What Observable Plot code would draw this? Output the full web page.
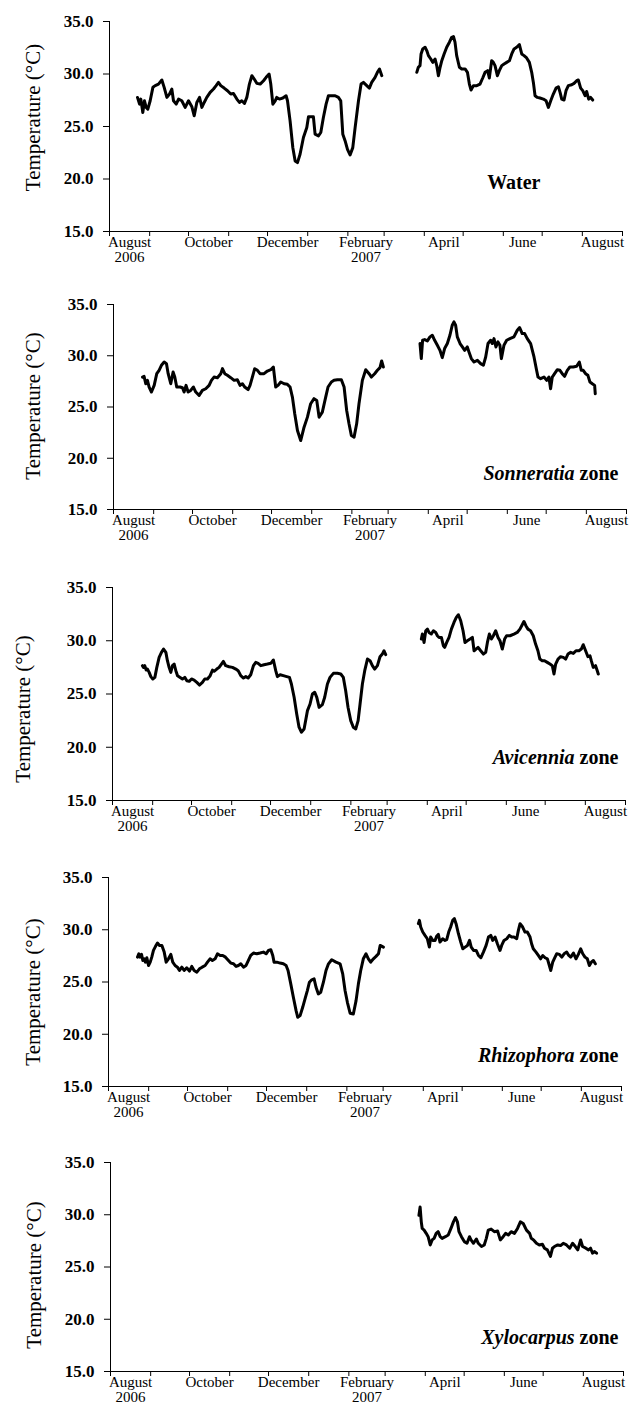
<!DOCTYPE html>
<html><head><meta charset="utf-8">
<script src="https://cdn.jsdelivr.net/npm/d3@7"></script>
<script src="https://cdn.jsdelivr.net/npm/@observablehq/plot@0.6"></script>
<style>body{margin:0;background:#fff;} #chart svg{display:block;}</style>
</head><body><div id="chart"></div>
<script>
// Days are counted from 1 August 2006
const startDate = "2006-08-01";
const endDate = "2007-09-01";
const yTicks = [15, 20, 25, 30, 35];
const labelMonths = ["2006-08", "2006-10", "2006-12", "2007-02", "2007-04", "2007-06", "2007-08"];
const labelTexts = ["August\n2006", "October", "December", "February\n2007", "April", "June", "August"];
const yTitle = "Temperature (°C)";
const zoneSpecies = ["", "Sonneratia", "Avicennia", "Rhizophora", "Xylocarpus"];
const zoneSuffix = ["Water", " zone", " zone", " zone", " zone"];

const waterDay1 = [21.6,23.2,24.2,25.7,27.0,28.3,29.6,31.4,33.5,35.3,37.8,40.4,42.2,44.3,46.3,48.1,49.4,51.5,53.3,55.8,58.4,61.0,63.6,65.4,67.4,69.5,71.3,73.1,75.1,77.7,80.3,82.3,84.1,85.9,88.5,91.1,93.6,95.7,98.3,100.3,102.1,104.2,106.0,108.0,109.9,111.7,113.7,116.3,118.9,120.9,123.2,124.5,126.1,127.9,129.1,131.2,133.8,136.3,137.4,139.4,141.5,143.3,145.1,147.1,149.7,152.3,153.6,157.4,158.7,161.3,163.1,165.1,167.2,169.0,171.6,174.2,176.7,178.5,180.1,181.9,183.7,185.7,187.8,189.6,192.2,194.2,196.0,198.6,200.6,202.4,205.0,206.8,208.4,210.2];
const waterTemp1 = [27.77,27.13,27.61,26.34,27.45,26.82,26.66,27.45,28.73,28.89,29.04,29.43,28.73,27.77,28.09,28.57,27.45,27.13,27.61,27.45,26.82,27.45,26.88,26.02,27.29,27.77,26.82,27.29,27.77,28.25,28.57,28.89,29.20,28.89,28.66,28.41,28.09,28.15,27.61,27.29,27.45,27.20,27.77,29.04,29.84,29.52,29.11,29.04,29.36,29.68,30.00,29.04,27.13,27.45,27.77,27.61,27.71,27.93,27.45,25.54,23.00,21.72,21.56,22.36,23.95,24.90,25.92,25.92,24.27,24.11,24.43,25.86,27.13,27.93,27.93,27.93,27.77,27.45,24.27,23.63,22.83,22.29,22.99,24.90,27.45,29.04,29.20,28.89,28.66,29.20,29.68,30.16,30.48,29.84];
const waterDay2 = [237.2,238.4,239.7,240.5,241.8,243.6,244.9,246.2,248.0,249.5,251.3,252.6,253.9,255.2,256.5,258.3,260.3,262.4,264.2,265.5,266.7,268.0,270.1,271.9,274.5,276.3,277.8,279.1,280.9,283.5,286.0,288.1,289.9,291.9,293.2,295.0,296.3,297.6,299.4,300.9,302.8,304.6,306.6,308.7,310.5,312.3,314.3,316.4,318.2,320.0,322.0,324.1,325.9,327.2,328.5,330.3,332.3,334.9,337.0,338.8,340.6,342.6,344.7,346.5,347.8,349.1,350.9,352.4,354.2,356.8,358.6,360.6,361.9,363.7,365.3,367.1,368.3,369.9,371.4,373.0];
const waterTemp2 = [30.16,30.64,30.80,31.91,32.39,32.55,32.23,31.75,31.43,31.11,31.43,30.80,29.84,30.64,31.27,31.91,32.55,33.03,33.50,33.57,33.03,31.75,30.64,30.48,30.48,30.16,29.04,28.47,28.89,28.89,29.04,29.62,30.16,30.32,29.62,31.27,31.11,30.80,29.84,30.32,30.80,30.96,31.11,31.27,31.91,32.39,32.55,32.80,31.91,31.75,31.53,31.11,30.16,29.20,27.93,27.77,27.71,27.61,27.45,26.82,27.45,28.09,28.66,28.79,28.25,27.61,27.52,28.41,28.89,28.98,29.11,29.36,29.43,28.66,28.41,27.93,28.34,27.61,27.77,27.52];

const sonDay1 = [22.4,23.6,24.9,26.2,27.5,29.3,31.4,33.4,35.2,37.0,39.1,40.9,42.2,44.2,46.0,47.3,48.8,51.4,53.2,54.5,56.0,57.6,59.6,61.7,63.5,66.1,68.6,71.2,73.8,75.6,77.6,80.2,82.8,84.1,85.9,87.9,90.5,93.1,95.6,97.7,99.5,101.3,103.9,105.4,107.2,109.0,111.1,113.1,116.2,118.8,121.4,123.4,125.2,127.0,129.1,131.7,134.2,136.3,138.1,139.9,142.0,144.5,147.1,149.7,152.2,154.8,156.9,158.7,161.2,163.8,165.6,168.2,170.2,172.8,175.9,178.0,180.0,181.8,183.6,185.7,187.7,189.5,192.1,194.7,197.3,199.1,201.6,203.7,205.7,207.0,208.3];
const sonTemp1 = [27.92,27.99,27.27,27.60,26.95,26.46,27.11,28.25,28.58,29.07,29.39,29.23,28.25,27.27,28.41,27.92,26.95,26.95,26.88,26.46,27.11,26.46,26.62,26.95,26.46,26.13,26.62,26.78,27.11,27.60,27.92,27.86,28.25,28.74,28.25,28.09,27.86,27.60,27.66,27.11,27.27,26.95,26.69,27.11,27.92,28.74,28.58,28.25,28.25,28.51,28.64,28.90,26.95,27.11,27.44,27.27,27.21,26.95,25.97,24.34,22.71,21.73,23.03,24.01,25.32,25.81,25.64,24.01,24.50,25.97,26.95,27.44,27.60,27.66,27.66,26.95,24.66,23.36,22.22,22.06,23.36,25.32,27.60,28.64,28.25,27.92,28.25,28.58,28.84,29.49,28.90];
const sonDay2 = [236.6,237.6,238.6,240.2,242.3,244.3,246.1,247.9,250.0,252.0,253.8,255.6,257.7,259.7,261.5,262.8,264.1,265.4,267.5,269.3,271.1,273.1,274.4,276.2,278.3,280.9,283.4,285.5,287.3,289.1,291.1,292.4,293.7,295.2,296.8,298.3,299.4,301.4,303.5,306.0,309.1,311.7,313.5,315.5,317.4,319.4,322.0,324.6,326.6,327.7,329.7,332.3,334.4,336.1,337.4,338.7,340.5,342.6,344.6,346.4,348.2,350.3,352.3,354.9,357.5,359.6,361.1,362.6,364.4,366.2,367.8,369.6,371.4,371.9];
const sonTemp2 = [31.19,29.72,31.51,31.58,31.45,31.84,32.00,31.51,31.02,30.53,29.82,30.70,31.19,32.00,32.98,33.30,32.98,31.84,31.19,30.86,30.53,30.86,30.37,29.72,29.39,29.55,29.23,29.07,29.88,31.19,31.51,31.19,31.67,30.86,31.35,31.02,29.72,31.02,31.51,31.67,31.84,32.49,32.75,32.16,32.16,31.67,31.19,29.88,28.58,27.92,27.76,27.92,27.60,27.92,26.78,27.92,28.25,28.64,28.58,28.25,27.99,28.58,28.90,28.90,28.97,29.39,28.58,28.58,28.25,28.09,27.44,27.27,27.11,26.29];

const aviDay1 = [23.1,23.9,24.9,26.0,27.0,28.3,29.6,31.1,32.7,34.2,36.0,37.8,39.4,41.2,42.4,43.7,45.0,46.3,47.6,48.9,50.2,52.2,54.0,55.8,57.4,59.2,61.0,63.0,65.1,67.1,69.4,71.2,73.3,75.4,77.2,78.4,80.5,82.3,84.1,85.6,87.4,90.0,92.6,95.2,97.0,99.0,101.1,102.9,104.7,106.7,108.8,110.6,112.4,114.5,117.0,119.6,122.2,124.2,126.0,127.3,129.4,131.9,134.5,136.6,138.1,140.2,142.2,144.0,145.8,147.9,150.5,152.5,154.3,156.1,157.7,159.5,162.0,163.8,165.9,167.9,170.5,173.6,176.2,178.2,180.0,181.8,183.9,185.9,187.8,189.6,191.1,192.9,194.7,196.8,198.8,200.6,202.4,204.5,206.5,208.3,209.6,210.9];
const aviTemp1 = [27.66,27.50,27.66,27.25,27.34,27.03,26.63,26.41,26.56,27.50,28.44,28.91,29.22,28.91,28.13,27.50,27.03,27.66,27.81,27.19,26.72,26.56,26.41,26.56,26.25,26.19,26.41,26.31,26.09,25.84,26.09,26.41,26.41,26.72,27.25,27.13,27.34,27.50,27.81,28.06,27.66,27.56,27.50,27.34,27.19,26.72,26.50,26.63,26.50,26.81,27.66,27.97,27.88,27.66,27.75,27.81,27.88,28.19,27.19,26.63,26.81,26.72,26.63,26.56,25.94,24.69,23.13,21.88,21.41,21.72,23.44,24.06,25.00,25.16,24.69,23.75,24.00,24.69,25.94,26.56,26.94,26.94,26.88,26.56,25.31,23.75,22.50,21.88,21.72,22.50,24.06,25.94,27.19,28.28,28.13,27.66,27.34,27.66,28.50,28.75,29.06,28.69];
const aviDay2 = [238.4,239.2,240.5,241.8,243.1,244.3,246.1,247.7,249.5,250.8,252.1,253.9,255.4,256.4,258.0,259.8,261.6,263.6,265.4,267.0,268.8,270.6,272.1,273.9,276.0,277.8,279.1,280.6,282.2,284.2,286.3,288.1,289.4,290.9,292.5,294.0,295.8,297.6,299.1,300.9,302.7,304.2,306.8,309.9,312.4,314.5,316.3,317.6,319.1,320.7,322.7,324.8,326.6,328.4,329.9,331.7,333.5,335.6,337.7,339.5,340.8,342.1,343.9,345.9,348.0,349.8,351.6,353.7,355.7,357.8,360.1,361.9,363.4,365.2,367.0,368.6,369.6,371.1,372.9,374.2,375.0];
const aviTemp2 = [30.16,30.63,29.84,30.94,31.09,30.78,30.63,30.94,30.78,30.47,30.31,30.31,29.53,29.38,29.84,30.31,31.09,31.72,32.19,32.44,31.88,30.94,29.84,30.00,30.16,30.31,29.06,29.22,29.38,29.06,28.75,28.91,29.84,30.63,30.16,30.47,30.94,30.31,30.00,29.22,30.16,30.47,30.47,30.63,30.78,31.09,31.50,31.81,31.41,31.09,30.94,30.47,29.69,29.06,28.28,28.13,28.13,27.97,27.81,27.66,26.88,27.81,28.28,28.50,28.44,28.28,28.75,28.91,28.81,29.06,29.06,29.22,29.63,29.06,28.50,28.59,28.13,27.50,27.66,27.19,26.88];

const rhiDay1 = [22.4,23.4,24.4,25.5,26.5,27.5,28.5,29.6,30.9,32.2,33.4,34.7,36.3,37.8,39.4,41.2,43.0,44.5,46.3,48.1,49.6,51.4,53.2,54.8,56.6,58.4,60.4,62.5,64.3,66.1,68.2,70.2,72.3,74.6,76.4,78.4,80.2,82.3,84.1,86.2,88.2,90.3,92.6,94.4,96.5,98.5,100.3,102.1,104.2,106.2,108.0,109.8,111.9,114.5,117.0,119.6,121.7,123.5,125.3,126.8,127.8,129.9,132.5,135.0,137.1,138.6,140.7,142.7,144.8,146.1,147.9,149.9,151.7,153.5,155.1,156.9,158.7,160.2,162.0,163.8,165.9,167.9,169.8,172.3,175.6,178.8,180.8,182.6,184.4,186.5,189.0,191.1,192.9,194.7,196.7,198.8,200.6,202.4,204.5,206.5,208.4,209.7,212.2];
const rhiTemp1 = [27.38,27.70,27.38,27.64,27.06,27.22,26.90,27.32,26.58,26.90,27.38,28.02,28.41,28.73,28.50,28.50,27.86,26.90,27.22,27.64,26.90,26.58,26.42,26.10,26.42,26.10,26.36,26.04,26.49,26.10,25.94,26.26,26.42,26.58,26.90,27.22,27.06,27.22,27.70,27.54,27.54,27.38,27.06,26.81,26.74,26.49,26.58,26.74,26.42,26.58,27.06,27.54,27.77,27.70,27.77,27.86,27.70,28.02,28.09,27.54,26.90,26.90,26.81,26.74,26.58,26.10,24.82,23.54,22.26,21.62,21.78,22.58,23.38,24.18,24.98,25.21,25.30,24.50,23.86,24.02,24.98,26.10,26.74,27.13,26.90,26.74,25.78,24.18,23.06,22.01,21.94,23.22,24.82,26.10,27.22,27.70,27.22,26.90,27.22,27.45,27.70,28.50,28.34];
const rhiDay2 = [239.2,240.0,241.0,242.6,244.3,246.1,247.7,248.7,250.3,252.1,253.3,254.6,255.9,258.0,259.8,261.1,262.6,264.1,265.7,267.0,268.3,270.1,271.9,273.5,275.3,277.1,278.7,280.0,281.8,283.8,285.6,287.4,289.4,291.5,293.3,295.1,296.6,298.4,300.2,302.2,303.5,305.3,307.4,309.4,311.2,313.0,315.1,316.4,317.7,319.7,321.5,323.3,325.4,326.6,327.9,330.0,331.8,333.6,335.2,337.0,338.8,340.3,341.4,342.9,344.7,346.0,348.1,349.9,351.7,353.7,355.3,356.8,358.9,360.9,362.7,364.5,366.1,367.8,369.6,371.2,372.7,374.3,375.8];
const rhiTemp2 = [30.58,30.90,30.26,29.78,29.46,29.14,28.34,29.30,28.98,28.98,29.37,29.56,28.82,29.14,28.98,29.05,29.78,30.26,30.90,31.06,30.58,29.62,28.82,28.18,28.34,28.50,28.98,28.34,28.02,28.02,27.54,27.32,27.86,28.50,29.30,29.46,28.98,29.30,28.66,28.02,28.50,28.98,29.14,29.46,29.30,29.30,29.14,29.94,30.58,30.26,29.78,29.78,29.30,28.66,28.18,27.86,27.54,27.22,27.54,27.32,27.22,26.58,26.10,26.90,27.38,27.70,27.64,27.38,27.70,27.86,27.54,27.38,27.77,27.22,27.64,28.18,27.70,27.38,27.22,26.58,26.90,27.06,26.74];

const xylDay2 = [238.1,239.0,239.9,240.6,242.1,243.7,245.2,246.8,248.3,249.8,251.4,252.9,254.5,256.0,258.5,260.7,262.8,264.7,266.3,267.8,269.0,270.9,273.1,275.2,277.1,278.3,280.2,282.4,283.9,286.4,288.5,290.1,291.6,293.8,296.3,298.8,300.9,303.1,305.0,307.1,309.3,311.8,314.2,316.4,318.6,321.1,323.5,324.8,326.6,328.8,331.0,333.4,335.0,337.2,339.6,341.2,342.7,345.2,347.4,349.5,352.0,354.5,356.7,358.8,360.7,362.9,364.4,366.9,369.0,370.6,372.1,373.7,375.2];
const xylTemp2 = [29.95,30.74,29.32,28.69,28.53,28.22,27.90,27.11,27.59,27.74,28.22,28.38,27.90,27.74,27.90,28.06,28.69,29.32,29.73,29.32,28.38,27.90,27.43,27.27,27.90,27.59,27.27,27.68,27.27,26.96,27.11,27.74,28.53,28.63,28.38,28.44,27.59,27.90,28.22,28.06,28.38,28.22,28.69,29.32,29.16,28.53,28.22,27.74,27.59,27.27,27.11,27.18,26.80,26.64,26.01,26.80,26.96,27.11,27.05,27.27,27.11,26.80,27.27,26.96,26.64,27.59,26.96,26.80,26.64,26.80,26.32,26.48,26.32];

const seriesSets = [
  [[waterDay1, waterTemp1], [waterDay2, waterTemp2]],
  [[sonDay1, sonTemp1], [sonDay2, sonTemp2]],
  [[aviDay1, aviTemp1], [aviDay2, aviTemp2]],
  [[rhiDay1, rhiTemp1], [rhiDay2, rhiTemp2]],
  [[xylDay2, xylTemp2]]
];

// layout (styles only)
const layout = [
  {height:283, mt:21, mb:52, ml:109, mr:8, labelX:33, labelDy:-9, zoneDx:-82, zoneDy:-49},
  {height:283, mt:21, mb:57, ml:113, mr:4, labelX:33, labelDy:-1, zoneDx:-8, zoneDy:-36},
  {height:289, mt:21, mb:55, ml:112, mr:5, labelX:23, labelDy:15, zoneDx:-7, zoneDy:-43},
  {height:285, mt:22, mb:54, ml:108, mr:9, labelX:33, labelDy:10, zoneDx:-3, zoneDy:-31},
  {height:275, mt:22, mb:44, ml:110, mr:7, labelX:34, labelDy:8, zoneDx:-5, zoneDy:-34}
];

const t0 = new Date(startDate + "T00:00:00Z");
const t1 = new Date(endDate + "T00:00:00Z");
const toDate = d => new Date(+t0 + d * 864e5);
const monthStarts = d3.utcMonth.range(t0, d3.utcDay.offset(t1, 1));
const labelDates = labelMonths.map(m => {
  const a = new Date(m + "-01T00:00:00Z");
  const b = d3.utcMonth.offset(a, 1);
  return new Date((+a + +b) / 2);
});
const labelMap = new Map(labelDates.map((d, i) => [+d, labelTexts[i]]));

const chart = document.getElementById("chart");
const serif = "'Liberation Serif', 'Times New Roman', Times, serif";

seriesSets.forEach((segs, p) => {
  const L = layout[p];
  const full = zoneSpecies[p] + zoneSuffix[p];
  const lineMarks = segs.map(([days, temps]) =>
    Plot.line(days.map((d, i) => ({date: toDate(d), temp: temps[i]})),
      {x: "date", y: "temp", stroke: "black", strokeWidth: 3, strokeLinejoin: "round"}));
  const svg = Plot.plot({
    width: 630, height: L.height,
    marginTop: L.mt, marginBottom: L.mb, marginLeft: L.ml, marginRight: L.mr,
    style: {fontFamily: serif, fontSize: "15px", background: "white", color: "black", overflow: "visible"},
    x: {type: "utc", domain: [t0, t1]},
    y: {domain: [15, 35]},
    marks: [
      Plot.ruleX([t0], {stroke: "black", strokeWidth: 1}),
      Plot.ruleY([15], {stroke: "black", strokeWidth: 1}),
      Plot.axisY({ticks: yTicks, tickFormat: d => d.toFixed(1), tickSize: 6, tickPadding: 10,
        fontSize: 17, fontWeight: "bold", label: null, stroke: "black"}),
      Plot.axisX({ticks: monthStarts, tickSize: 5, tickFormat: () => "", label: null, stroke: "black"}),
      Plot.axisX({ticks: labelDates, tickSize: 0, tickPadding: 5, tickFormat: d => labelMap.get(+d),
        label: null, fontSize: 15}),
      ...lineMarks,
      Plot.text([yTitle], {text: d => d, frameAnchor: "left", dx: L.labelX - L.ml, dy: L.labelDy,
        rotate: -90, textAnchor: "middle", lineAnchor: "middle", fontSize: 21, fill: "black"}),
      Plot.text([full], {text: d => d, frameAnchor: "bottom-right", dx: L.zoneDx, dy: L.zoneDy,
        textAnchor: "end", lineAnchor: "middle", fontSize: 20, fontWeight: "bold", fill: "black"})
    ]
  });
  // style the species name in italics
  if (zoneSpecies[p]) {
    const ns = "http://www.w3.org/2000/svg";
    svg.querySelectorAll("text").forEach(t => {
      if (t.textContent === full) {
        t.textContent = "";
        const a = document.createElementNS(ns, "tspan");
        a.setAttribute("font-style", "italic");
        a.textContent = zoneSpecies[p];
        const b = document.createElementNS(ns, "tspan");
        b.textContent = zoneSuffix[p];
        t.appendChild(a); t.appendChild(b);
      }
    });
  }
  chart.appendChild(svg);
});
</script></body></html>
